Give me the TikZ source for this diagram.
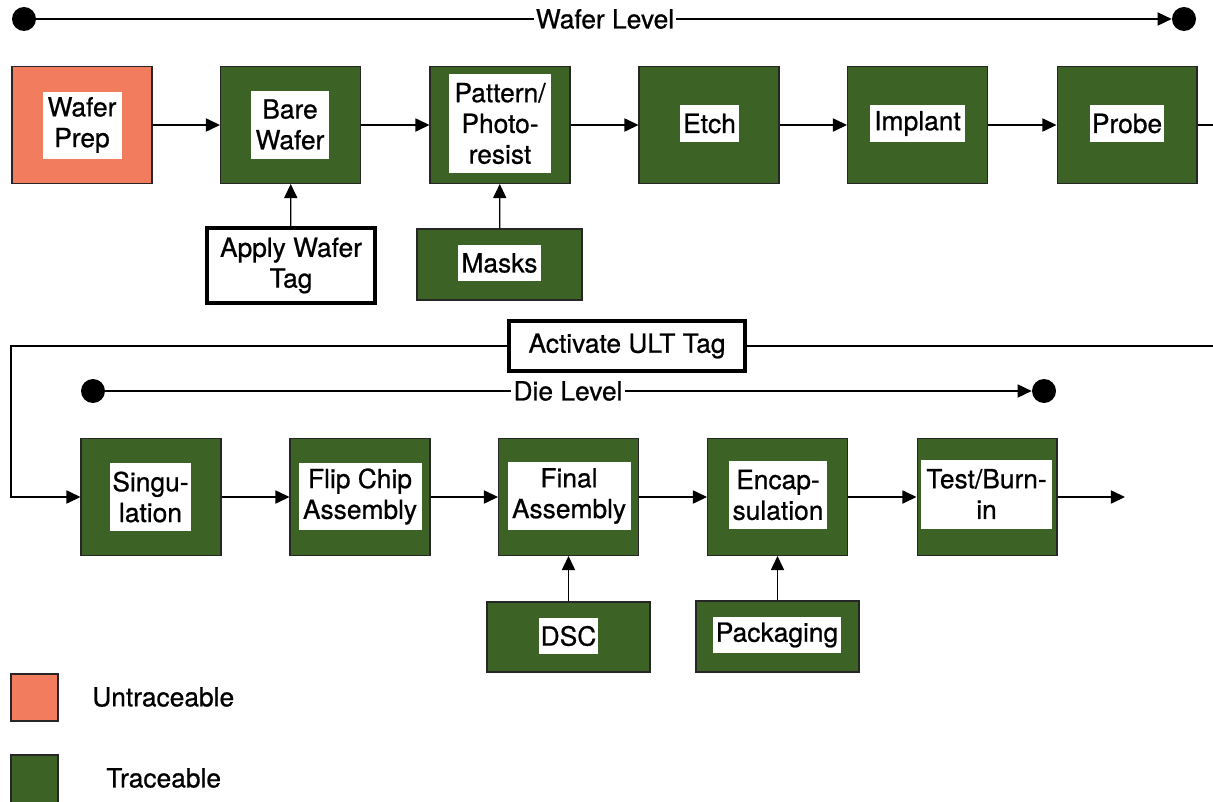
\documentclass[tikz,border=0pt]{standalone}
\usepackage{fontspec}
\setmainfont{TeX Gyre Heros}[FakeBold=0.7]
\usetikzlibrary{arrows.meta}
\definecolor{trgreen}{RGB}{60,98,38}
\definecolor{untr}{RGB}{242,124,94}
\begin{document}
\begin{tikzpicture}[x=0.02cm,y=-0.02cm,
 every node/.style={font=\fontsize{15}{17.5}\selectfont},
 outer/.style={draw=black!85, line width=0.6pt, fill=trgreen, minimum width=2.8cm, minimum height=2.34cm, inner sep=0pt},
 salmon/.style={outer, fill=untr},
 isz/.style 2 args={minimum width=#1*0.02cm, minimum height=#2*0.02cm},
 inner/.style={fill=white, inner sep=0pt, align=center},
 tagbox/.style={draw, line width=2.2pt, fill=white, align=center, inner sep=0pt},
 arr/.style={-{Triangle[length=8pt,width=7.5pt]}, line width=0.7pt},
 ln/.style={line width=0.7pt},
 dot/.style={circle, fill=black, minimum size=0.48cm, inner sep=0pt}
]
\path[use as bounding box] (0,0) rectangle (1213,801);

% Wafer level
\node[dot] (wl1) at (24,19) {};
\node[dot] (wl2) at (1184,19) {};
\node[inner sep=1pt] (wlt) at (605,19) {Wafer Level};
\draw[ln] (wl1) -- (wlt.west);
\draw[arr] (wlt.east) -- (wl2.west);

% Row 1
\node[salmon] (prep) at (82,125) {};
\node[inner, isz={79}{67}] (prept) at (82,125) {Wafer\\Prep};
\node[outer] (bare) at (290.5,125) {};
\node[inner, isz={78}{68}] (baret) at (290,124.5) {Bare\\Wafer};
\node[outer] (pat) at (500,125) {};
\node[inner, isz={102}{99}] (patt) at (500,123.5) {Pattern/\\Photo-\\resist};
\node[outer] (etch) at (709,125) {};
\node[inner, isz={59}{37}] (etcht) at (709.5,123.5) {Etch};
\node[outer] (impl) at (917.5,125) {};
\node[inner, isz={95}{37}] (implt) at (917.5,123.5) {Implant};
\node[outer] (probe) at (1127,125) {};
\node[inner, isz={74}{37}] (probet) at (1127,123.5) {Probe};
\coordinate (pr) at (1213,125);

\draw[arr] (prep) -- (bare);
\draw[arr] (bare) -- (pat);
\draw[arr] (pat) -- (etch);
\draw[arr] (etch) -- (impl);
\draw[arr] (impl) -- (probe);
\draw[ln] (probe) -- (pr);

\node[tagbox, isz={168}{75}] (tag) at (291,265.5) {Apply Wafer\\Tag};
\node[outer, isz={165}{71}] (masks) at (499.5,264.5) {};
\node[inner, isz={83}{36}] (maskst) at (499.5,263) {Masks};
\draw[arr] (tag) -- (bare);
\draw[arr] (masks) -- (pat);

% Activate ULT Tag
\node[tagbox, isz={236}{50}] (ult) at (627,346) {Activate ULT Tag};
\coordinate (ur) at (1213,346);
\coordinate (ul) at (11,346);
\draw[ln] (ur) -- (ult.east);

% Die level
\node[dot] (dl1) at (93,391) {};
\node[dot] (dl2) at (1044,391) {};
\node[inner sep=1pt] (dlt) at (568,391) {Die Level};
\draw[ln] (dl1) -- (dlt.west);
\draw[arr] (dlt.east) -- (dl2.west);

% Row 2
\node[outer] (sing) at (151,497) {};
\node[inner, isz={81}{68}] (singt) at (150.5,497) {Singu-\\lation};
\node[outer] (flip) at (360,497) {};
\node[inner, isz={123}{67}] (flipt) at (360,496.5) {Flip Chip\\Assembly};
\node[outer] (final) at (568.5,497) {};
\node[inner, isz={123}{68}] (finalt) at (569,496) {Final\\Assembly};
\node[outer] (encap) at (777.5,497) {};
\node[inner, isz={98}{68}] (encapt) at (778,495) {Encap-\\sulation};
\node[outer] (test) at (987,497) {};
\node[inner, isz={131}{69}] (testt) at (986.5,494) {Test/Burn-\\in};
\coordinate (tr) at (1125,497);

\draw[arr] (ult.west) -- (ul) |- (sing.west);
\draw[arr] (sing) -- (flip);
\draw[arr] (flip) -- (final);
\draw[arr] (final) -- (encap);
\draw[arr] (encap) -- (test);
\draw[arr] (test) -- (tr);

\node[outer, isz={163}{70}] (dsc) at (568.5,637) {};
\node[inner, isz={59}{36}] (dsct) at (568.5,636) {DSC};
\node[outer, isz={163}{71}] (pack) at (777.5,636.5) {};
\node[inner, isz={128}{36}] (packt) at (777,635) {Packaging};
\draw[arr] (dsc) -- (final);
\draw[arr] (pack) -- (encap);

% Legend
\node[salmon, isz={47}{47}] (lu) at (34.5,697.5) {};
\node[anchor=west, inner sep=0pt] (lut) at (92,697) {Untraceable};
\node[outer, isz={47}{48}] (lt) at (34.5,779) {};
\node[anchor=west, inner sep=0pt] (ltt) at (106,778) {Traceable};
\end{tikzpicture}
\end{document}
